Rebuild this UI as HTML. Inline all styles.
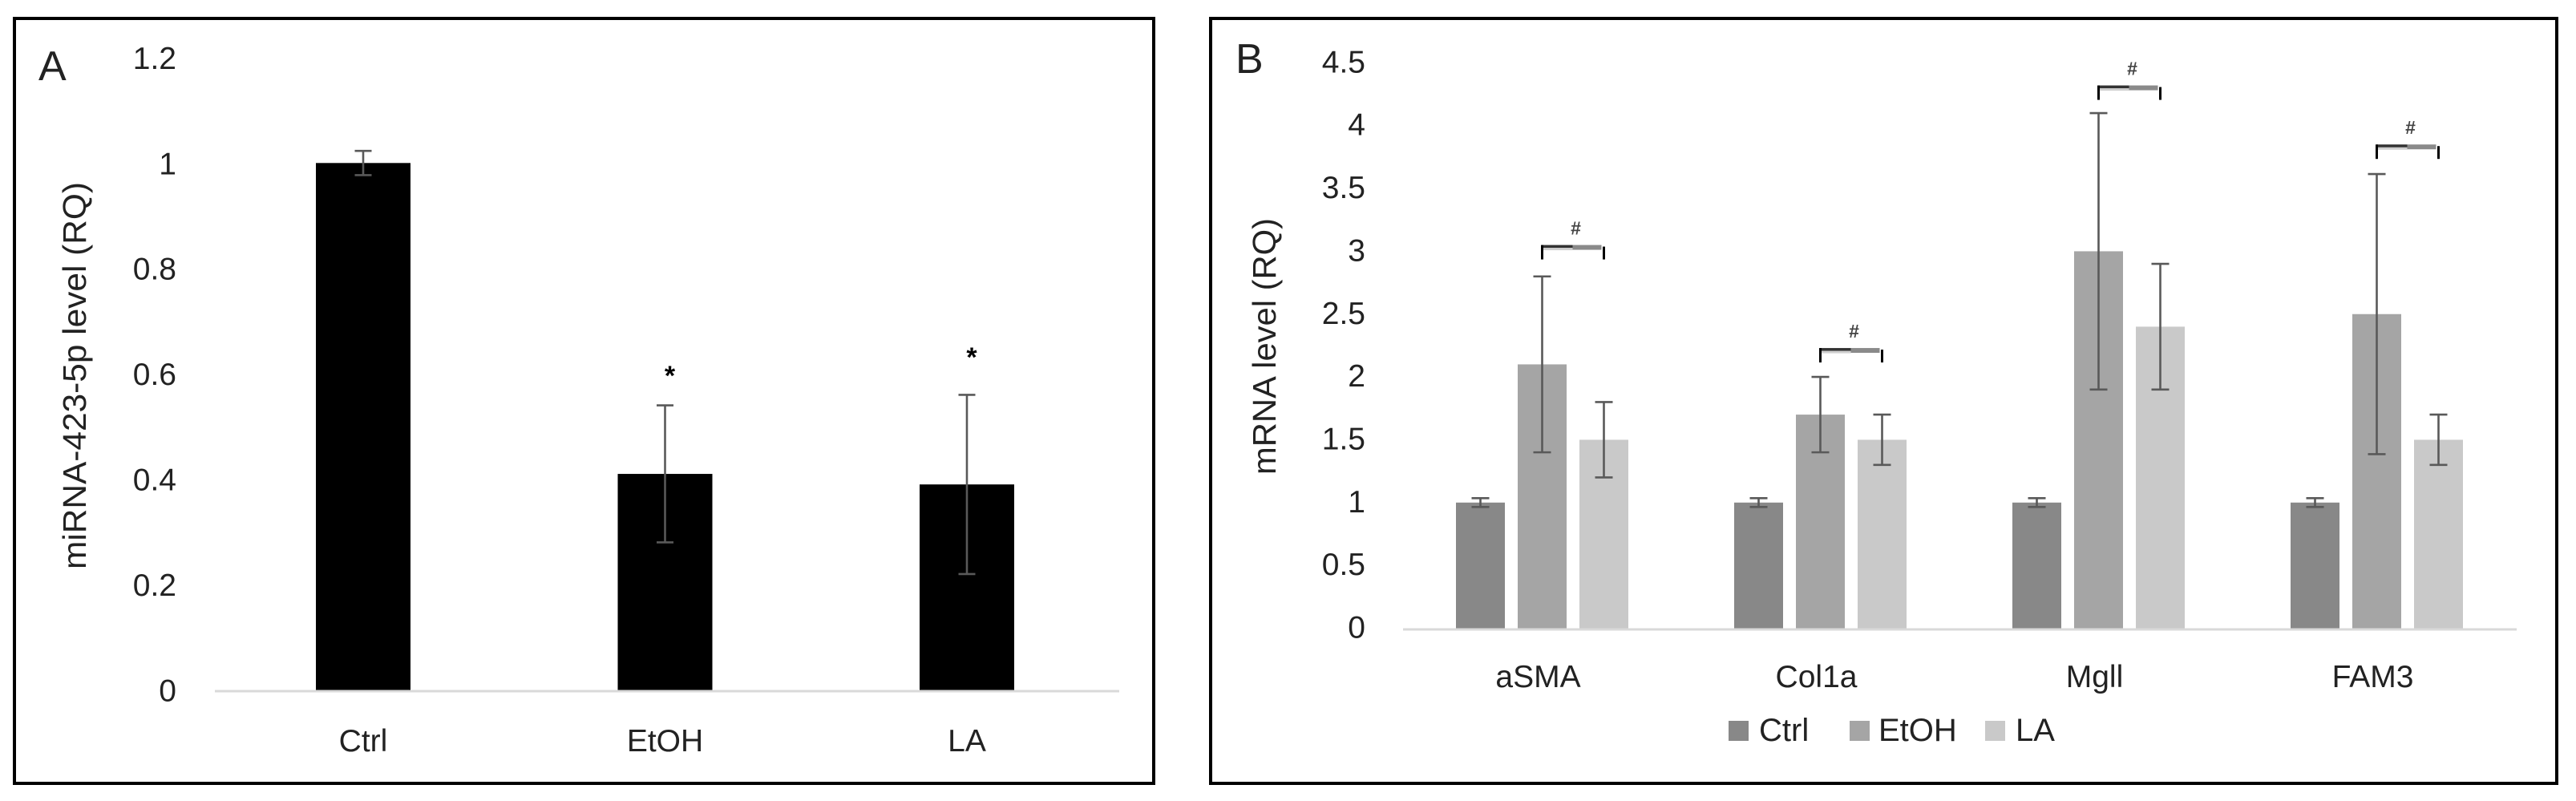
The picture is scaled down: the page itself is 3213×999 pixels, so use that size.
<!DOCTYPE html>
<html lang="en">
<head>
<meta charset="utf-8">
<title>miRNA-423-5p and mRNA levels</title>
<style>
  html, body { margin: 0; padding: 0; background: #fff; }
  body { width: 3213px; height: 999px; overflow: hidden; }
  svg { display: block; }
  text { font-family: "Liberation Sans", sans-serif; fill: #222; }
</style>
</head>
<body>
<svg id="figure" xmlns="http://www.w3.org/2000/svg" width="3213" height="999" viewBox="0 0 3213 999">
  <rect x="0" y="0" width="3213" height="999" fill="#ffffff"/>
  <rect x="18" y="23" width="1421" height="954" fill="none" stroke="#000" stroke-width="4"/>
  <rect x="1510" y="23" width="1679" height="954" fill="none" stroke="#000" stroke-width="4"/>
  <text x="48" y="100" font-size="52">A</text>
  <text x="1541" y="91" font-size="52">B</text>
  <text transform="translate(107,710) rotate(-90)" font-size="41" textLength="483" lengthAdjust="spacingAndGlyphs">miRNA-423-5p level (RQ)</text>
  <text transform="translate(1591,592) rotate(-90)" font-size="41" textLength="320" lengthAdjust="spacingAndGlyphs">mRNA level (RQ)</text>
  <g id="chartA"></g>
  <g id="chartB"></g>
  <g id="legendB"></g>
</svg>
<script>
// Panel A data
const aCategories = ['Ctrl', 'EtOH', 'LA'];
const aValues = [1, 0.41, 0.39];
const aErrors = [0.023, 0.13, 0.17];
const aStars = ['', '*', '*'];
const aStarLevels = [0, 0.605, 0.64];
const aTicks = [0, 0.2, 0.4, 0.6, 0.8, 1, 1.2];

// Panel B data
const bCategories = ['aSMA', 'Col1a', 'Mgll', 'FAM3'];
const bSeriesNames = ['Ctrl', 'EtOH', 'LA'];
const bCtrl = [1, 1, 1, 1];
const bEtOH = [2.1, 1.7, 3.0, 2.5];
const bLA = [1.5, 1.5, 2.4, 1.5];
const bCtrlErr = [0.035, 0.035, 0.035, 0.035];
const bEtOHErr = [0.7, 0.3, 1.1, 1.115];
const bLAErr = [0.3, 0.2, 0.5, 0.2];
const bBracketLevels = [3.05, 2.23, 4.32, 3.85];
const bTicks = [0, 0.5, 1, 1.5, 2, 2.5, 3, 3.5, 4, 4.5];

const NS = 'http://www.w3.org/2000/svg';
const chartA = document.getElementById('chartA');
const chartB = document.getElementById('chartB');
const legendB = document.getElementById('legendB');

function make(parent, tag, attrs, content) {
  const el = document.createElementNS(NS, tag);
  for (const k in attrs) el.setAttribute(k, attrs[k]);
  if (content !== undefined) el.textContent = content;
  parent.appendChild(el);
  return el;
}

// Axis functions
function yA(v) { return 860.5 - 657.2 * v; }
function xA(i) { return 453 + 376.5 * i; }
function yB(v) { return 783.5 - 156.7 * v; }
function groupB(i) { return 1816 + 347 * i; }
function xB(i, s) { return groupB(i) + 77 * s + 30.5; }

function errorBar(parent, x, y, low, high, capHalf, label) {
  const g = make(parent, 'g', { stroke: '#595959', 'stroke-width': 2.6, fill: 'none' });
  
  
  make(g, 'line', { x1: x, x2: x, y1: y(high), y2: y(low) });
  make(g, 'line', { x1: x - capHalf, x2: x + capHalf, y1: y(high), y2: y(high) });
  make(g, 'line', { x1: x - capHalf, x2: x + capHalf, y1: y(low), y2: y(low) });
}

// ---- Panel A ----
aTicks.forEach(function (t) {
  const el = make(chartA, 'text', { x: 220, y: yA(t) + 14, 'font-size': 39, 'text-anchor': 'end' }, String(t));
  
  
});
const axisA = make(chartA, 'line', { x1: 268, x2: 1396, y1: yA(0) + 1.5, y2: yA(0) + 1.5, stroke: '#d9d9d9', 'stroke-width': 3 });



aCategories.forEach(function (c, i) {
  const cx = xA(i);
  const bar = make(chartA, 'rect', { x: cx - 59, y: yA(aValues[i]), width: 118, height: yA(0) - yA(aValues[i]), fill: '#000' });
  
  
  errorBar(chartA, cx, yA, aValues[i] - aErrors[i], aValues[i] + aErrors[i], 10.5, 'error-bar-' + c.toLowerCase());
  const label = make(chartA, 'text', { x: cx, y: 937, 'font-size': 39, 'text-anchor': 'middle' }, c);
  
  
  if (aStars[i]) {
    const star = make(chartA, 'text', { x: cx + 6, y: yA(aStarLevels[i]) + 17, 'font-size': 34, 'font-weight': 'bold', 'text-anchor': 'middle', style: 'fill:#000' }, aStars[i]);
    
    
  }
});

// ---- Panel B ----
const bColors = ['#888888', '#a5a5a5', '#c9c9c9'];
const bValues = [bCtrl, bEtOH, bLA];
const bErrs = [bCtrlErr, bEtOHErr, bLAErr];

bTicks.forEach(function (t) {
  const el = make(chartB, 'text', { x: 1703, y: yB(t) + 12, 'font-size': 39, 'text-anchor': 'end' }, String(t));
  
  
});
const axisB = make(chartB, 'line', { x1: 1750, x2: 3139, y1: yB(0) + 1.5, y2: yB(0) + 1.5, stroke: '#d9d9d9', 'stroke-width': 3 });



bCategories.forEach(function (c, i) {
  bSeriesNames.forEach(function (s, si) {
    const v = bValues[si][i];
    const cx = xB(i, si);
    const bar = make(chartB, 'rect', { x: cx - 30.5, y: yB(v), width: 61, height: yB(0) - yB(v), fill: bColors[si] });
    
    
  });
  bSeriesNames.forEach(function (s, si) {
    const v = bValues[si][i];
    const e = bErrs[si][i];
    errorBar(chartB, xB(i, si), yB, v - e, v + e, 11, 'error-bar-' + c.toLowerCase() + '-' + s.toLowerCase());
  });
  const label = make(chartB, 'text', { x: xB(i, 1) - 5, y: 857, 'font-size': 39, 'text-anchor': 'middle' }, c);
  
  

  // Significance bracket above the EtOH error bar
  const top = yB(bBracketLevels[i]);
  const left = xB(i, 1);
  const right = left + 77;
  const mid = left + 38;
  const br = make(chartB, 'g', {});
  
  
  make(br, 'rect', { x: mid, y: top, width: 36, height: 6, fill: '#8a8a8a' });
  make(br, 'rect', { x: left, y: top + 3.5, width: 38, height: 3, fill: '#cfcfcf' });
  make(br, 'rect', { x: left, y: top, width: 38, height: 3.5, fill: '#333' });
  make(br, 'rect', { x: left - 1.5, y: top, width: 3, height: 18, fill: '#000' });
  make(br, 'rect', { x: right - 1.5, y: top + 2, width: 3, height: 16, fill: '#000' });
  const hash = make(chartB, 'text', { x: mid + 4, y: top - 13, 'font-size': 23, 'font-weight': 'bold', 'text-anchor': 'middle', style: 'fill:#444' }, '#');
  
  
});

// Legend
const legendStart = 2156;
const legendSteps = [0, 151, 320];
bSeriesNames.forEach(function (s, si) {
  const x = legendStart + legendSteps[si];
  const sw = make(legendB, 'rect', { x: x, y: 899, width: 25, height: 25, fill: bColors[si] });
  
  
  const t = make(legendB, 'text', { x: x + (si === 1 ? 36 : 38), y: 924, 'font-size': 40 }, s);
  
  
});
</script>
</body>
</html>
